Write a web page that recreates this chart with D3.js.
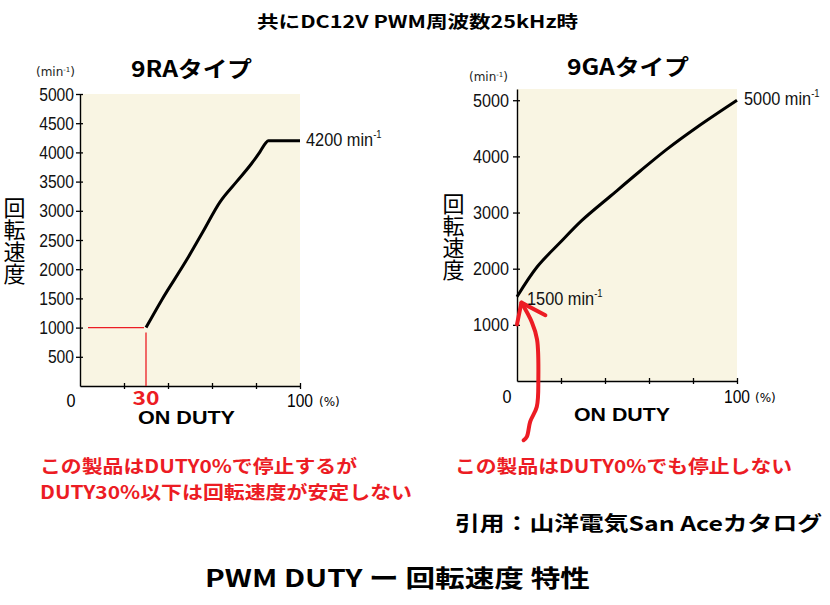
<!DOCTYPE html>
<html>
<head>
<meta charset="utf-8">
<script src="https://cdn.jsdelivr.net/npm/d3@7"></script>
<style>
  body { margin: 0; background: #fff; }
  svg { display: block; }
</style>
</head>
<body>
<svg width="830" height="605"></svg>
<script>
// 9RA type: duty (%) vs speed (min-1)
const raDuty = [30, 37.1, 48.5, 56, 63.6, 71.2, 78, 81.8, 84.5, 85.6, 100];
const raRpm = [1000, 1470, 2160, 2650, 3150, 3500, 3810, 4010, 4165, 4200, 4200];
const raTicks = [500, 1000, 1500, 2000, 2500, 3000, 3500, 4000, 4500, 5000];

// 9GA type
const gaDuty = [0, 9.1, 19.7, 29.5, 42.4, 56, 68.2, 81.8, 100];
const gaRpm = [1500, 2030, 2470, 2860, 3290, 3740, 4130, 4520, 5000];
const gaTicks = [1000, 2000, 3000, 4000, 5000];

const dutyTicks = [20, 40, 60, 80, 100];

// hand drawn red arrow, in 9GA chart units (duty, rpm)
const arrowShaft = [[2.0, 1396], [6.8, 1042], [9.1, 742], [9.7, 35], [9.0, -459], [6.0, -724], [4.5, -989], [3.0, -1055]];
const arrowHead = [[0, 1007], [2.0, 1396], [12.9, 1171]];

const RED = "#ec1c24";
const BG = "#f9f5e3";
const num = "'Liberation Sans', Arial, sans-serif";
const jp = "'Noto Sans CJK JP', sans-serif";

const svg = d3.select("svg");

function drawPanel(opt) {
  const x = d3.scaleLinear().domain([0, 100]).range(opt.xr);
  const y = d3.scaleLinear().domain([0, opt.ymax]).range(opt.yr);
  const g = svg.append("g");

  g.append("rect")
    .attr("x", x(0)).attr("y", y(opt.ymax))
    .attr("width", x(100) - x(0)).attr("height", y(0) - y(opt.ymax))
    .attr("fill", BG);

  const yAxis = g.append("g")
    .attr("transform", `translate(${x(0)},0)`)
    .call(d3.axisLeft(y).tickValues(opt.ticks).tickSize(4).tickSizeOuter(0)
      .tickPadding(opt.pad).tickFormat(d3.format("d")));
  yAxis.selectAll(".tick line").attr("x1", 3).attr("stroke-width", 1.3);
  yAxis.select(".domain").attr("stroke-width", 1.4);
  yAxis.selectAll("text")
    .attr("font-family", num).attr("font-size", 19).attr("fill", "#111")
    .attr("textLength", d => String(d).length * opt.digit)
    .attr("lengthAdjust", "spacingAndGlyphs");

  const xAxis = g.append("g")
    .attr("transform", `translate(0,${y(0)})`)
    .call(d3.axisBottom(x).tickValues(dutyTicks).tickSize(3).tickSizeOuter(0).tickFormat(""));
  xAxis.selectAll(".tick line").attr("y1", -3).attr("stroke-width", 1.3);
  xAxis.select(".domain").attr("stroke-width", 1.4);

  const line = d3.line().x((d, i) => x(opt.duty[i])).y(d => y(d)).curve(opt.curve);
  g.append("path").datum(opt.rpm).attr("d", line)
    .attr("fill", "none").attr("stroke", "#000").attr("stroke-width", 3);

  return { x, y, g };
}

const ra = drawPanel({ xr: [80, 300], yr: [386, 94], ymax: 5000, ticks: raTicks,
  duty: raDuty, rpm: raRpm, pad: 2, digit: 8.7, curve: d3.curveMonotoneX });
const ga = drawPanel({ xr: [517, 737], yr: [381, 89], ymax: 5200, ticks: gaTicks,
  duty: gaDuty, rpm: gaRpm, pad: 4, digit: 9, curve: d3.curveCatmullRom });

// red guide lines at 30% / 1000
ra.g.append("line")
  .attr("x1", 88).attr("x2", ra.x(30) - 2)
  .attr("y1", ra.y(1000)).attr("y2", ra.y(1000))
  .attr("stroke", RED).attr("stroke-width", 1.3);
ra.g.append("line")
  .attr("x1", ra.x(30)).attr("x2", ra.x(30))
  .attr("y1", ra.y(1000) + 5).attr("y2", ra.y(0))
  .attr("stroke", RED).attr("stroke-width", 1.3);

// arrow
const arrowLine = d3.line().x(d => ga.x(d[0])).y(d => ga.y(d[1])).curve(d3.curveCatmullRom);
svg.append("path").datum(arrowShaft).attr("d", arrowLine)
  .attr("fill", "none").attr("stroke", RED).attr("stroke-width", 4).attr("stroke-linecap", "round");
svg.append("path").datum(arrowHead).attr("d", d3.line().x(d => ga.x(d[0])).y(d => ga.y(d[1])))
  .attr("fill", "none").attr("stroke", RED).attr("stroke-width", 4)
  .attr("stroke-linecap", "round").attr("stroke-linejoin", "round");

function txt(s, x, y, o = {}) {
  const t = svg.append("text")
    .attr("x", x).attr("y", y)
    .attr("font-family", o.font || jp)
    .attr("font-size", o.size || 16)
    .attr("font-weight", o.weight || "normal")
    .attr("fill", o.fill || "#000")
    .attr("text-anchor", o.anchor || "start")
    .text(s);
  if (o.len) t.attr("textLength", o.len).attr("lengthAdjust", "spacingAndGlyphs");
  return t;
}

// narrow "xxxx min-1" label: squeeze horizontally with a transform
function unitLabel(base, x, y) {
  const g = svg.append("g").attr("transform", `translate(${x},${y}) scale(0.86,1)`);
  const t = g.append("text").attr("font-family", num).attr("font-size", 19).attr("fill", "#111");
  t.append("tspan").text(base);
  t.append("tspan").attr("font-size", 11).attr("dy", -8).text("-1");
}

function minLabel(x, y) {
  const t = svg.append("text").attr("x", x).attr("y", y)
    .attr("font-family", "'DejaVu Sans', sans-serif").attr("font-size", 12).attr("fill", "#222");
  t.append("tspan").text("(min");
  t.append("tspan").attr("font-size", 7).attr("dy", -4).text("-1");
  t.append("tspan").attr("dy", 4).text(")");
}

// top title
txt("共にDC12V PWM周波数25kHz時", 257, 28, { size: 17, weight: "bold", len: 321 });

// panel titles
txt("9RAタイプ", 131, 77, { size: 22, weight: "bold", len: 121 });
txt("9GAタイプ", 567, 75, { size: 22, weight: "bold", len: 122 });

minLabel(36, 76);
minLabel(469, 81);

// end labels
unitLabel("4200 min", 306, 146);
unitLabel("5000 min", 744, 105);
unitLabel("1500 min", 527, 305);

// x labels
txt("0", 71, 407, { font: num, size: 19, anchor: "middle", len: 9 });
txt("30", 146, 405, { size: 19, weight: "bold", fill: RED, anchor: "middle", len: 27 });
txt("100", 287, 407, { font: num, size: 19, len: 26 });
txt("(%)", 319, 406, { font: "'DejaVu Sans', sans-serif", size: 12 });
txt("ON DUTY", 138, 424, { font: num, size: 19, weight: "bold", len: 97 });

txt("0", 507, 403, { font: num, size: 19, anchor: "middle", len: 9 });
txt("100", 724, 403, { font: num, size: 19, len: 26 });
txt("(%)", 755, 402, { font: "'DejaVu Sans', sans-serif", size: 12 });
txt("ON DUTY", 574, 421, { font: num, size: 19, weight: "bold", len: 96 });

// y titles (vertical)
svg.append("text").attr("x", 14.5).attr("y", 197)
  .attr("font-family", jp).attr("font-size", 22)
  .style("writing-mode", "vertical-rl")
  .text("回転速度");
svg.append("text").attr("x", 453.5).attr("y", 193)
  .attr("font-family", jp).attr("font-size", 22)
  .style("writing-mode", "vertical-rl")
  .text("回転速度");

// notes
txt("この製品はDUTY0%で停止するが", 40, 473, { size: 18, weight: "bold", fill: RED, len: 317 });
txt("DUTY30%以下は回転速度が安定しない", 40, 499, { size: 18, weight: "bold", fill: RED, len: 372 });
txt("この製品はDUTY0%でも停止しない", 455, 473, { size: 18, weight: "bold", fill: RED, len: 337 });
txt("引用：山洋電気San Aceカタログ", 455, 531, { size: 20, weight: "bold", len: 367 });
txt("PWM DUTY ー 回転速度 特性", 205, 587, { size: 24, weight: "bold", len: 385 });
</script>
</body>
</html>
